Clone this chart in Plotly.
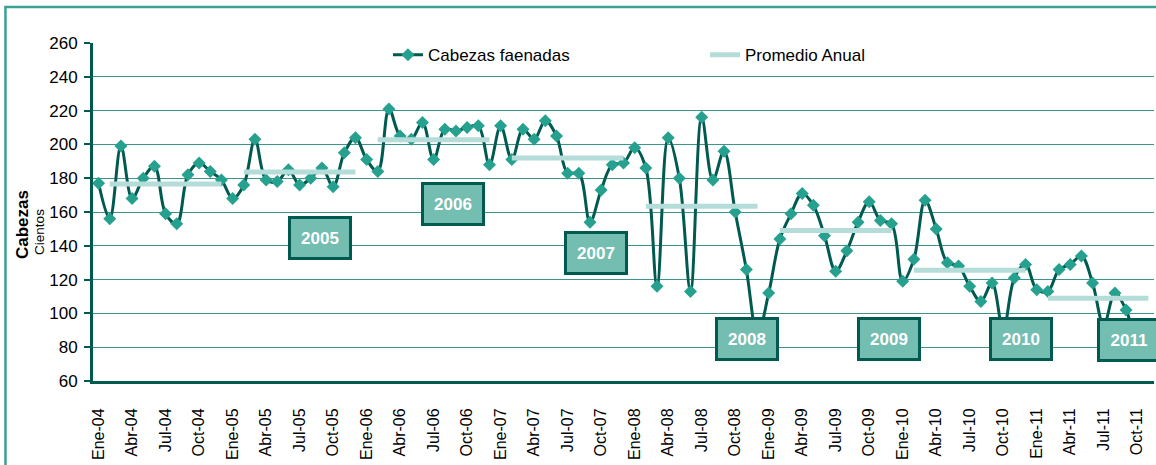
import plotly.graph_objects as go

# Datos mensuales (cientos de cabezas), Ene-04 a Nov-11
meses = ["Ene", "Feb", "Mar", "Abr", "May", "Jun", "Jul", "Ago", "Sep", "Oct", "Nov", "Dic"]
anios = [2004, 2005, 2006, 2007, 2008, 2009, 2010, 2011]

v2004 = [177, 156, 199, 168, 180, 187, 159, 153, 182, 189, 184, 179]
v2005 = [168, 176, 203, 179, 178, 185, 176, 180, 186, 175, 195, 204]
v2006 = [191, 184, 221, 205, 203, 213, 191, 209, 208, 210, 211, 188]
v2007 = [211, 191, 209, 203, 214, 205, 183, 183, 154, 173, 188, 189]
v2008 = [198, 186, 116, 204, 180, 113, 216, 179, 196, 160, 126, 87]
v2009 = [112, 144, 159, 171, 164, 146, 125, 137, 154, 166, 155, 153]
v2010 = [119, 132, 167, 150, 130, 128, 116, 107, 118, 90, 121, 129]
v2011 = [114, 113, 126, 129, 134, 118, 93, 112, 102, 82, 76]

promedios = [176.5, 183.7, 202.8, 191.9, 163.4, 149.0, 125.6, 108.9]

# posiciones de las cajas de año (indice de mes, valor)
cajas_anio = ["2005", "2006", "2007", "2008", "2009", "2010", "2011"]
cajas_x = [19.8, 31.7, 44.5, 58.05, 70.8, 82.6, 92.25]
cajas_y = [144.9, 164.7, 136.0, 84.9, 84.6, 84.9, 84.0]

series = [v2004, v2005, v2006, v2007, v2008, v2009, v2010, v2011]
valores = [v for s in series for v in s]
etiquetas = [f"{meses[m]}-{str(a)[2:]}" for a, s in zip(anios, series) for m in range(len(s))]
idx = list(range(len(valores)))

DARK = "#005a50"
MARK = "#27a18f"
GRID = "#3a968c"
FONT = "Liberation Sans, Arial, sans-serif"

fig = go.Figure()

fig.add_trace(go.Scatter(
    x=idx, y=valores, name="Cabezas faenadas", mode="lines+markers",
    line=dict(color=DARK, width=3, shape="spline", smoothing=1.0),
    marker=dict(symbol="diamond", size=10, color=MARK),
))

# promedio anual: un tramo por año, de Feb al último mes con dato
inicio = 0
for k, (s, p) in enumerate(zip(series, promedios)):
    xs = idx[inicio + 1:inicio + len(s)]
    fig.add_trace(go.Scatter(
        x=xs, y=[p] * len(xs), name="Promedio Anual", mode="lines",
        line=dict(color="#b4dcd8", width=5), legendgroup="prom", showlegend=(k == 0),
    ))
    inicio += len(s)

for t, x, y in zip(cajas_anio, cajas_x, cajas_y):
    fig.add_annotation(
        x=x, y=y, xref="x", yref="y", text=f"<b>{t}</b>", showarrow=False,
        font=dict(family=FONT, size=17, color="white"),
        bgcolor="#74bdb1", bordercolor=DARK, borderwidth=3, borderpad=1,
        width=56, height=36,
    )

fig.add_annotation(x=-0.0669, y=0.4615, xref="paper", yref="paper", text="<b>Cabezas</b>",
                   xanchor="center", yanchor="middle",
                   textangle=-90, showarrow=False, font=dict(family=FONT, size=17, color="black"))
fig.add_annotation(x=-0.0500, y=0.441, xref="paper", yref="paper", text="Cientos",
                   xanchor="center", yanchor="middle",
                   textangle=-90, showarrow=False, font=dict(family=FONT, size=13.5, color="black"))

# marco exterior
fig.add_shape(type="rect", xref="paper", yref="paper", x0=-0.0825, x1=1.05, y0=-0.3, y1=1.1065,
              line=dict(color="#3aa196", width=2.5), layer="below")

fig.update_layout(
    width=1156, height=465,
    margin=dict(l=93, r=2, t=43, b=84),
    paper_bgcolor="white", plot_bgcolor="white",
    font=dict(family=FONT, color="black"),
    hovermode=False,
    legend=dict(orientation="h", x=0.278, y=0.964, xanchor="left", yanchor="middle",
                font=dict(size=17), entrywidth=272, entrywidthmode="pixels",
                bgcolor="rgba(0,0,0,0)"),
)
fig.update_xaxes(
    range=[-0.5, len(valores) - 0.5],
    tickvals=idx[::3], ticktext=etiquetas[::3], tickangle=-90,
    tickfont=dict(size=16), ticks="", showgrid=False,
    showline=True, linecolor=DARK, linewidth=3, zeroline=False,
    ticklabelstandoff=18,
)
fig.update_yaxes(
    range=[60, 260], dtick=20, tickfont=dict(size=17),
    showgrid=True, gridcolor=GRID, gridwidth=1.3,
    showline=True, linecolor=DARK, linewidth=3, zeroline=False,
    ticks="outside", ticklen=6, tickwidth=2, tickcolor=DARK,
    ticklabelstandoff=3,
)

fig.write_html("out.html", config={"displayModeBar": False},
               post_script="document.body.style.margin='0';")
